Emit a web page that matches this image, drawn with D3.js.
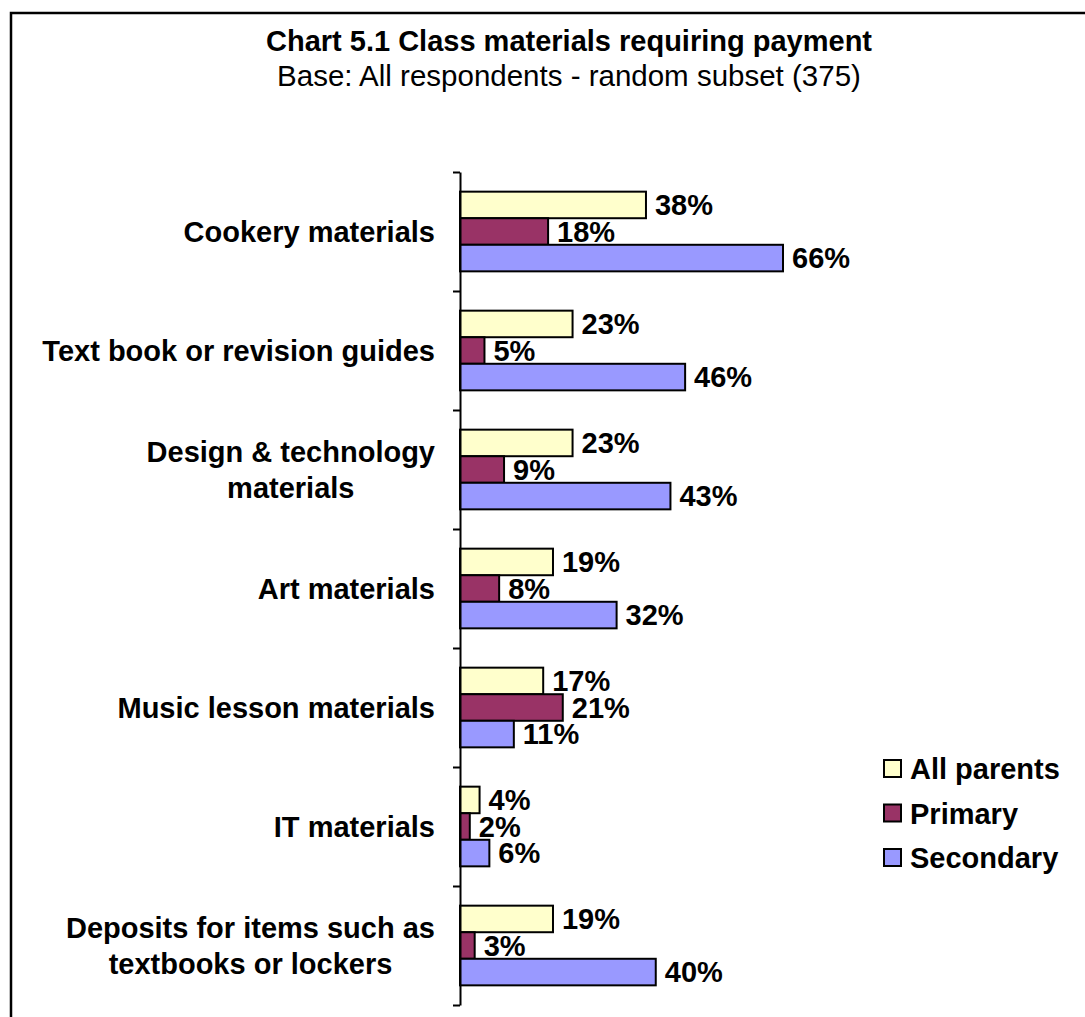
<!DOCTYPE html>
<html>
<head>
<meta charset="utf-8">
<script src="https://cdn.jsdelivr.net/npm/d3@7"></script>
<style>
  body { margin: 0; background: #fff; }
  text { font-family: "Liberation Sans", Arial, sans-serif; fill: #000; }
</style>
</head>
<body>
<div id="chart"></div>
<script>
// data
var categories = [
  "Cookery materials",
  "Text book or revision guides",
  "Design & technology\nmaterials",
  "Art materials",
  "Music lesson materials",
  "IT materials",
  "Deposits for items such as\ntextbooks or lockers"
];
var series = ["All parents", "Primary", "Secondary"];
var allParents = [38, 23, 23, 19, 17, 4, 19];
var primary    = [18, 5, 9, 8, 21, 2, 3];
var secondary  = [66, 46, 43, 32, 11, 6, 40];
var colors = ["#FFFFCC", "#993366", "#9999FF"];

var W = 1085, H = 1017;
var FS = 29;

var svg = d3.select("#chart")
  .append("svg")
    .attr("width", W)
    .attr("height", H);

// frame round the whole chart
svg.append("rect")
  .attr("x", 11).attr("y", 13)
  .attr("width", W + 20).attr("height", H + 20)
  .attr("fill", "none")
  .attr("stroke", "#000")
  .attr("stroke-width", 2.5);

function addText(g, x, y, str, size, weight, anchor) {
  return g.append("text")
    .attr("x", x)
    .attr("y", y)
    .attr("text-anchor", anchor || "start")
    .style("font-size", size + "px")
    .style("font-weight", weight || "normal")
    .text(str);
}

// titles
addText(svg, 569, 51, "Chart 5.1 Class materials requiring payment", FS, "bold", "middle");
addText(svg, 569, 86, "Base: All respondents - random subset (375)", 29.5, "normal", "middle");

var x = d3.scaleLinear()
  .domain([0, 100])
  .range([460, 460 + 489.4]);

var y = d3.scaleBand()
  .domain(d3.range(categories.length))
  .range([172, 1005]);

var ySub = d3.scaleBand()
  .domain(series)
  .range([0, y.bandwidth()])
  .paddingOuter(0.74);

var table = categories.map(function(c, i) {
  return { cat: c, i: i, vals: [allParents[i], primary[i], secondary[i]] };
});

// bars
var groups = svg.append("g").selectAll("g")
  .data(table)
  .enter()
  .append("g")
    .attr("transform", function(d) { return "translate(0," + y(d.i) + ")"; });

groups.selectAll("rect")
  .data(function(d) { return d.vals.map(function(v, k) { return { s: series[k], v: v, k: k }; }); })
  .enter()
  .append("rect")
    .attr("x", x(0))
    .attr("y", function(d) { return ySub(d.s); })
    .attr("width", function(d) { return x(d.v) - x(0); })
    .attr("height", ySub.bandwidth())
    .attr("fill", function(d) { return colors[d.k]; })
    .attr("stroke", "#000")
    .attr("stroke-width", 2);

// value labels
groups.each(function(d) {
  var g = d3.select(this);
  d.vals.forEach(function(v, k) {
    addText(g, x(v) + 9, ySub(series[k]) + ySub.bandwidth() / 2 + 10, v + "%", FS, "bold", "start");
  });
});

// axis with ticks on the category boundaries
var yAxisScale = d3.scaleLinear().domain([0, categories.length]).range([172, 1005]);
var axis = svg.append("g")
  .attr("transform", "translate(460,0)")
  .call(d3.axisLeft(yAxisScale)
    .tickValues(d3.range(categories.length + 1))
    .tickFormat("")
    .tickSize(7)
    .tickSizeOuter(0));
axis.select(".domain").attr("stroke", "#000").attr("stroke-width", 2);
axis.selectAll(".tick line").attr("stroke", "#000").attr("stroke-width", 2);

// category labels (multi-line ones are centred within their block)
table.forEach(function(d) {
  var lines = d.cat.split("\n");
  var cy = y(d.i) + y.bandwidth() / 2;
  var lh = 36;
  var g = svg.append("g");
  var nodes = lines.map(function(l, j) {
    var yy = cy + 10 + (j - (lines.length - 1) / 2) * lh;
    return addText(g, 0, yy, l, FS, "bold", "middle");
  });
  var maxW = d3.max(nodes, function(n) { return n.node().getComputedTextLength(); });
  nodes.forEach(function(n) { n.attr("x", 435 - maxW / 2); });
});

// legend
var legend = svg.append("g");
series.forEach(function(s, k) {
  var ly = 769 + k * 44.5;
  legend.append("rect")
    .attr("x", 884).attr("y", ly - 9)
    .attr("width", 17).attr("height", 17)
    .attr("fill", colors[k])
    .attr("stroke", "#000")
    .attr("stroke-width", 2);
  addText(legend, 910, ly + 10, s, FS, "bold", "start");
});
</script>
</body>
</html>
